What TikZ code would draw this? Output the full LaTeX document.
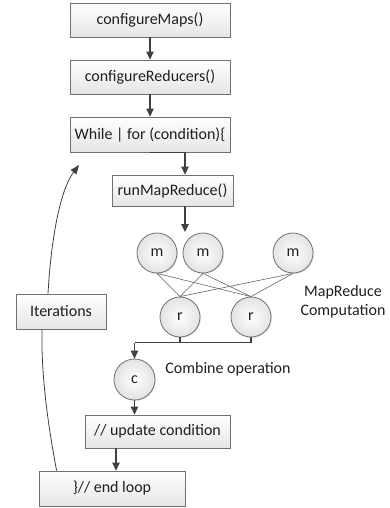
\documentclass[tikz,border=0pt]{standalone}
\usepackage{fontspec}
\setmainfont{Carlito}
\usetikzlibrary{arrows.meta,shadows,calc}
\definecolor{linegray}{HTML}{404040}
\definecolor{edgegray}{HTML}{707070}
\begin{document}
\begin{tikzpicture}[x=1pt,y=-1pt,
  every node/.style={font=\fontsize{16}{19}\selectfont, text=black!88},
  box/.style={draw=edgegray, line width=0.8pt, top color=white, bottom color=gray!20,
    drop shadow={shadow xshift=1.2pt, shadow yshift=-1.2pt, opacity=0.25},
    inner sep=0pt},
  proc/.style={circle, draw=edgegray, line width=0.8pt, inner color=white, outer color=gray!22,
    drop shadow={shadow xshift=1pt, shadow yshift=-1pt, opacity=0.2},
    minimum size=40pt, inner sep=0pt},
  flow/.style={draw=linegray, line width=1.2pt, -{Triangle[length=8pt,width=7.5pt]}},
  plain/.style={draw=linegray, line width=1.2pt},
  mesh/.style={draw=gray!80!black, line width=0.6pt},
  label/.style={align=center, inner sep=0pt}
]
\useasboundingbox (0,0) rectangle (389,508);

% main flow boxes
\node[box, minimum width=160pt, minimum height=34pt] (cmaps) at (150,20) {configureMaps()};
\node[box, minimum width=160pt, minimum height=34pt] (cred)  at (150,77) {configureReducers()};
\node[box, minimum width=160pt, minimum height=35pt] (loop)  at (150,134.5) {While | for (condition)\{};
\node[box, minimum width=121pt, minimum height=31pt] (run)   at (172.5,190.5) {runMapReduce()};
\node[box, minimum width=145pt, minimum height=33pt] (upd)   at (157.5,431.5) {// update condition};
\node[box, minimum width=146pt, minimum height=35pt] (endl)  at (112,488.5) {\}// end loop};
\node[box, minimum width=90pt,  minimum height=35pt] (iter)  at (61,311.5) {Iterations};

% map, reduce and combine processes
\node[proc] (m1) at (157,253) {m};
\node[proc] (m2) at (203,253) {m};
\node[proc] (m3) at (293,253) {m};
\node[proc] (r1) at (180,317) {r};
\node[proc] (r2) at (251,317) {r};
\node[proc, minimum size=41pt] (c) at (134.5,379.5) {c};

\node[label] (mrtext) at (343,301.5) {MapReduce\\Computation};
\node[label] (cotext) at (228,369) {Combine operation};

% shuffle links
\foreach \m in {m1,m2,m3}{
  \foreach \r in {r1,r2}{
    \draw[mesh] (\m.south) -- (\r.north);
  }
}

% sequential connectors
\draw[flow] (cmaps.south) -- (cred.north);
\draw[flow] (cred.south) -- (loop.north);
\draw[flow] (loop.south) -| ([xshift=12.5pt]run.north);
\coordinate (mapin) at (185,232);
\draw[flow] ([xshift=12.5pt]run.south) -- (mapin);

\coordinate (bus) at (134.5,342.5);
\draw[plain] (r1.south) -- (r1.south |- bus);
\draw[plain] (r2.south) |- (bus);
\draw[flow] (bus) -- (c.north);
\draw[flow] (c.south) -- (c.south |- upd.north);
\draw[flow] ([xshift=4pt]endl.north |- upd.south) -- ([xshift=4pt]endl.north);

% iteration feedback curve
\coordinate (back) at (79,165);
\draw[draw=linegray, line width=0.8pt] ([xshift=18pt]endl.north west) .. controls (48,425) and (41,375) .. ([xshift=-19pt]iter.south);
\draw[draw=linegray, line width=0.8pt, -{Triangle[length=9pt,width=7pt]}] ([xshift=-13pt]iter.north) .. controls (51,240) and (60,190) .. (back);
\end{tikzpicture}
\end{document}
